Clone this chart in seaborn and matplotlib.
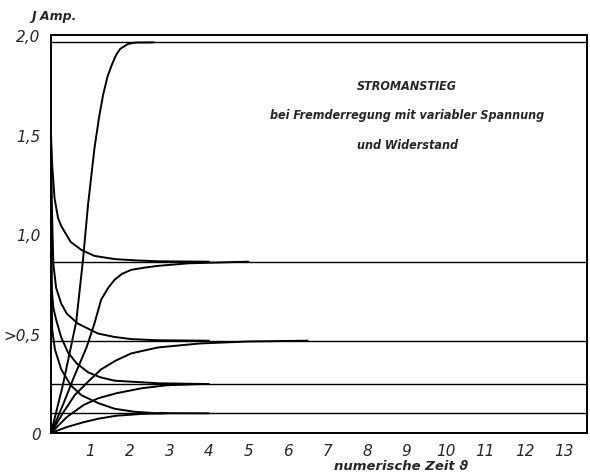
import numpy as np
import pandas as pd
import matplotlib
matplotlib.use('Agg')
import matplotlib.pyplot as plt
import seaborn as sns

# Stationaere Endwerte (waagerechte Linien)
levels = [1.963, 0.861, 0.464, 0.246, 0.099]

# Ansteigende Kurven (Zeit, Strom)
r1_t = [0, 0.3, 0.64, 0.81, 0.94, 1.10, 1.22, 1.32, 1.43, 1.54, 1.65, 1.75, 1.95, 2.13, 2.6]
r1_i = [0, 0.24, 0.56, 0.87, 1.15, 1.43, 1.59, 1.70, 1.79, 1.85, 1.90, 1.93, 1.955, 1.962, 1.963]
r2_t = [0, 0.3, 0.6, 0.9, 1.1, 1.27, 1.45, 1.61, 1.8, 2.03, 2.4, 2.71, 3.5, 5.0]
r2_i = [0, 0.14, 0.29, 0.43, 0.55, 0.67, 0.73, 0.77, 0.80, 0.82, 0.832, 0.84, 0.853, 0.861]
r3_t = [0, 0.3, 0.6, 0.95, 1.27, 1.65, 2.03, 2.71, 3.77, 5.0, 6.5]
r3_i = [0, 0.10, 0.19, 0.26, 0.32, 0.365, 0.40, 0.43, 0.450, 0.46, 0.464]
r4_t = [0, 0.4, 0.82, 1.2, 1.66, 2.3, 2.93, 3.77]
r4_i = [0, 0.08, 0.14, 0.175, 0.20, 0.225, 0.24, 0.246]
r5_t = [0, 0.4, 0.82, 1.2, 1.66, 2.3, 2.93]
r5_i = [0, 0.03, 0.054, 0.072, 0.087, 0.096, 0.099]

# Abfallende Kurven
d1_t = [0, 0.03, 0.09, 0.18, 0.26, 0.5, 0.77, 1.1, 1.61, 2.2, 2.71, 4.0]
d1_i = [1.50, 1.35, 1.18, 1.08, 1.04, 0.96, 0.92, 0.89, 0.874, 0.867, 0.863, 0.861]
d2_t = [0, 0.02, 0.06, 0.13, 0.26, 0.4, 0.68, 1.19, 1.6, 2.03, 2.71, 4.0]
d2_i = [1.45, 1.15, 0.85, 0.73, 0.65, 0.60, 0.55, 0.50, 0.483, 0.472, 0.466, 0.464]
d3_t = [0, 0.01, 0.02, 0.06, 0.13, 0.26, 0.43, 0.65, 0.94, 1.25, 1.61, 2.71, 4.0]
d3_i = [1.40, 1.00, 0.72, 0.63, 0.57, 0.48, 0.405, 0.35, 0.305, 0.28, 0.263, 0.250, 0.246]
d4_t = [0, 0.01, 0.03, 0.1, 0.26, 0.5, 0.77, 1.2, 1.61, 2.1, 2.63, 4.0]
d4_i = [1.35, 0.80, 0.52, 0.42, 0.32, 0.24, 0.19, 0.15, 0.122, 0.107, 0.10, 0.099]

x_ticks = list(range(1, 14))
y_ticks = [0, 0.5, 1.0, 1.5, 2.0]
y_ticklabels = ['0', '>0,5', '1,0', '1,5', '2,0']

curves = {'r1': (r1_t, r1_i), 'r2': (r2_t, r2_i), 'r3': (r3_t, r3_i),
          'r4': (r4_t, r4_i), 'r5': (r5_t, r5_i), 'd1': (d1_t, d1_i),
          'd2': (d2_t, d2_i), 'd3': (d3_t, d3_i), 'd4': (d4_t, d4_i)}
df = pd.concat([pd.DataFrame({'t': t, 'i': i, 'kurve': k}) for k, (t, i) in curves.items()])

sns.set_style('white')
plt.rcParams['font.family'] = ['DejaVu Sans']

fig = plt.figure(figsize=(5.9, 4.77), dpi=100)
ax = fig.add_axes([0.0864, 0.0901, 0.9085, 0.8344])

for lv in levels:
    ax.axhline(lv, color='black', lw=1.0)

sns.lineplot(data=df, x='t', y='i', units='kurve', estimator=None, color='black',
             lw=1.4, sort=False, ax=ax)

ax.set_xlim(0, 13.57)
ax.set_ylim(0, 2.0)
for s in ax.spines.values():
    s.set_color('black')
    s.set_linewidth(1.4)

lab = dict(style='italic', family='DejaVu Sans')
ax.set_xticks(x_ticks)
ax.set_xticklabels([str(v) for v in x_ticks], fontsize=11, **lab)
ax.set_yticks(y_ticks)
ax.set_yticklabels(y_ticklabels, fontsize=11, **lab)
ax.tick_params(axis='both', direction='inout', length=9, width=1.0, color='black', pad=3)
ax.set_xlabel('')
ax.set_ylabel('')

fig.text(0.052, 0.965, 'J Amp.', fontsize=9, ha='left', va='center', weight='bold', **lab)
fig.text(0.68, 0.022, 'numerische Zeit ϑ', fontsize=9.5, ha='center', va='center',
         weight='bold', **lab)

tkw = dict(ha='center', va='center', fontsize=9, style='italic', weight='bold',
           family='DejaVu Sans', fontstretch='condensed', transform=fig.transFigure)
fig.text(0.69, 0.818, 'STROMANSTIEG', **tkw)
fig.text(0.69, 0.757, 'bei Fremderregung mit variabler Spannung', **tkw)
fig.text(0.69, 0.696, 'und Widerstand', **tkw)

fig.savefig('out.png', dpi=100)
